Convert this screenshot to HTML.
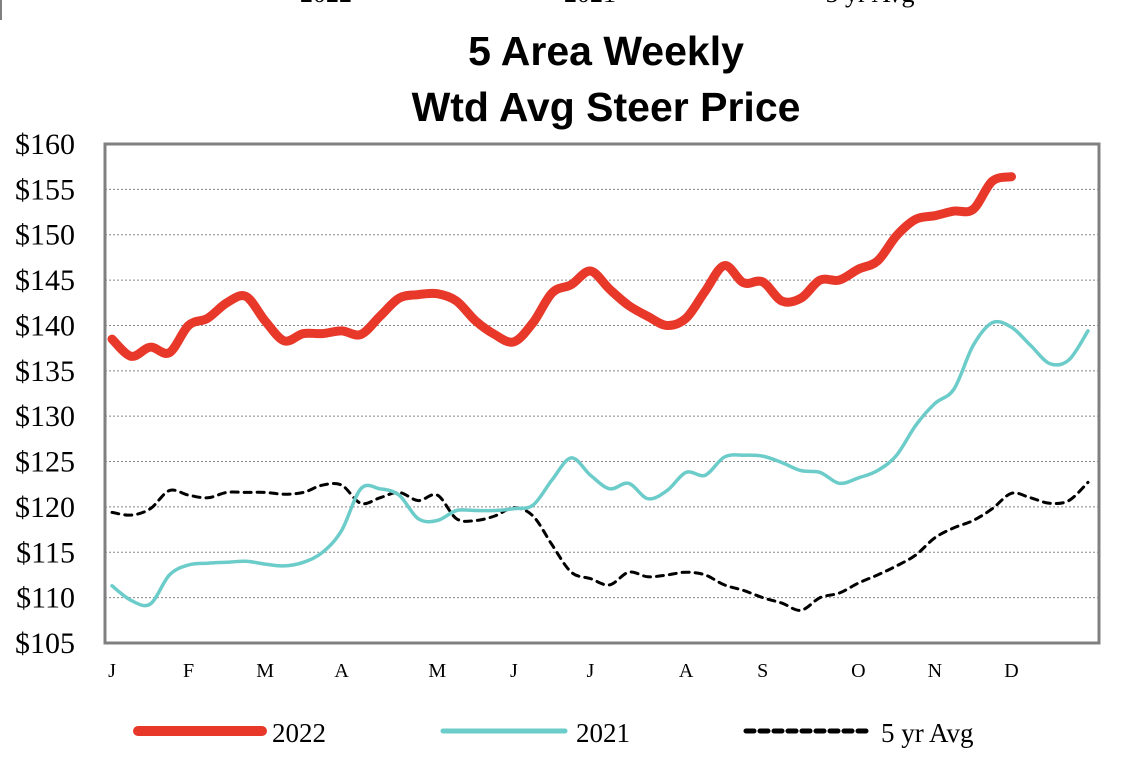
<!DOCTYPE html>
<html><head><meta charset="utf-8"><style>
html,body{margin:0;padding:0;background:#fff;}
svg{display:block;}
</style></head><body>
<svg id="chart" width="1132" height="758" viewBox="0 0 1132 758" xmlns="http://www.w3.org/2000/svg">
<line x1="1" y1="0" x2="1" y2="20" stroke="#000" stroke-width="1"/>
<text x="326" y="2" font-family="Liberation Serif, serif" font-size="26" text-anchor="middle">2022</text>
<text x="590" y="2" font-family="Liberation Serif, serif" font-size="26" text-anchor="middle">2021</text>
<text x="870" y="2" font-family="Liberation Serif, serif" font-size="26" text-anchor="middle">5 yr Avg</text>
<text x="606" y="65" font-family="Liberation Sans, sans-serif" font-weight="bold" font-size="41" text-anchor="middle">5 Area Weekly</text>
<text x="606" y="121" font-family="Liberation Sans, sans-serif" font-weight="bold" font-size="41" text-anchor="middle">Wtd Avg Steer Price</text>
<g id="grid"></g>
<g id="ylabels"></g>
<g id="xlabels"></g>
<g id="series"></g>
<rect x="105" y="144" width="994" height="499" fill="none" stroke="#808080" stroke-width="3"/>
<g>
<line x1="138" y1="731" x2="262" y2="731" stroke="#e8382a" stroke-width="10" stroke-linecap="round"/>
<text x="272" y="742" font-family="Liberation Serif, serif" font-size="27">2022</text>
<line x1="443" y1="731" x2="565" y2="731" stroke="#6cccc9" stroke-width="5" stroke-linecap="round"/>
<text x="576" y="742" font-family="Liberation Serif, serif" font-size="27">2021</text>
<line x1="746" y1="731" x2="866" y2="731" stroke="#000" stroke-width="5" stroke-dasharray="8,6" stroke-linecap="round"/>
<text x="881" y="742" font-family="Liberation Serif, serif" font-size="27">5 yr Avg</text>
</g>
</svg>
<script>
const yTicks = [105,110,115,120,125,130,135,140,145,150,155,160];
const yTickLabels = ["$105","$110","$115","$120","$125","$130","$135","$140","$145","$150","$155","$160"];
const monthLabels = ["J","F","M","A","M","J","J","A","S","O","N","D"];
const monthWeeks = [1,5,9,13,18,22,26,31,35,40,44,48];
const s2022 = [138.5,136.6,137.6,137,140,140.8,142.5,143.2,140.5,138.3,139.1,139.1,139.4,139,141,143,143.4,143.5,142.7,140.5,139,138.2,140.3,143.6,144.5,146,144,142.2,141,140,140.8,143.8,146.6,144.7,144.8,142.7,143,145,145,146.2,147.1,149.9,151.7,152.1,152.6,152.8,155.9,156.4];
const s2021 = [111.3,109.7,109.3,112.5,113.6,113.8,113.9,114,113.7,113.5,113.9,115,117.4,122,122,121.3,118.7,118.5,119.6,119.6,119.6,119.8,120.2,123,125.4,123.5,122,122.6,120.9,121.8,123.8,123.5,125.5,125.7,125.6,124.9,124,123.8,122.6,123.2,124,125.7,129,131.4,133,137.8,140.3,139.8,137.8,135.8,136.2,139.4];
const sAvg = [119.4,119.1,119.8,121.8,121.3,121,121.6,121.6,121.6,121.4,121.6,122.4,122.4,120.4,121,121.6,120.7,121.3,118.7,118.5,119,119.9,119,115.8,112.8,112.1,111.4,112.8,112.3,112.5,112.8,112.5,111.4,110.8,110,109.4,108.6,110,110.5,111.6,112.5,113.5,114.7,116.6,117.7,118.5,119.8,121.5,121,120.4,120.7,122.7];

const NS = "http://www.w3.org/2000/svg";
const yMin = 105, yMax = 160, plotTop = 144, plotBottom = 643;
function yScale(v){ return plotBottom - (v - yMin) / (yMax - yMin) * (plotBottom - plotTop); }
function xScale(w){ return 112 + (w - 1) * (1088 - 112) / 51; }

const grid = document.getElementById('grid');
const yl = document.getElementById('ylabels');
yTicks.forEach((t,i)=>{
  const y = yScale(t);
  if (t !== yMin && t !== yMax) {
    const ln = document.createElementNS(NS,'line');
    ln.setAttribute('x1',105); ln.setAttribute('x2',1099);
    ln.setAttribute('y1',y); ln.setAttribute('y2',y);
    ln.setAttribute('stroke','#888'); ln.setAttribute('stroke-width','1'); ln.setAttribute('stroke-dasharray','2,2');
    
    
    grid.appendChild(ln);
  }
  const tx = document.createElementNS(NS,'text');
  tx.setAttribute('x',75); tx.setAttribute('y',y+10);
  tx.setAttribute('text-anchor','end');
  tx.setAttribute('font-family','Liberation Serif, serif'); tx.setAttribute('font-size','30');
  tx.textContent = yTickLabels[i];
  
  
  yl.appendChild(tx);
});
const xl = document.getElementById('xlabels');
monthLabels.forEach((m,i)=>{
  const tx = document.createElementNS(NS,'text');
  tx.setAttribute('x', xScale(monthWeeks[i]) );
  tx.setAttribute('y', 677);
  tx.setAttribute('text-anchor','middle');
  tx.setAttribute('font-family','Liberation Serif, serif'); tx.setAttribute('font-size','20');
  tx.textContent = m;
  
  
  xl.appendChild(tx);
});

function smoothPath(vals){
  const pts = vals.map((v,i)=>[xScale(i+1), yScale(v)]);
  let d = 'M' + pts[0][0].toFixed(1) + ',' + pts[0][1].toFixed(1);
  for (let i=0;i<pts.length-1;i++){
    const p0 = pts[Math.max(0,i-1)], p1 = pts[i], p2 = pts[i+1], p3 = pts[Math.min(pts.length-1,i+2)];
    const c1x = p1[0] + (p2[0]-p0[0])/6, c1y = p1[1] + (p2[1]-p0[1])/6;
    const c2x = p2[0] - (p3[0]-p1[0])/6, c2y = p2[1] - (p3[1]-p1[1])/6;
    d += ' C' + c1x.toFixed(1)+','+c1y.toFixed(1)+' '+c2x.toFixed(1)+','+c2y.toFixed(1)+' '+p2[0].toFixed(1)+','+p2[1].toFixed(1);
  }
  return d;
}
const sg = document.getElementById('series');
function addLine(vals, color, width, dash, name){
  const p = document.createElementNS(NS,'path');
  p.setAttribute('d', smoothPath(vals));
  p.setAttribute('fill','none'); p.setAttribute('stroke',color); p.setAttribute('stroke-width',width);
  p.setAttribute('stroke-linejoin','round'); p.setAttribute('stroke-linecap','round');
  if (dash) p.setAttribute('stroke-dasharray', dash);
  
  
  sg.appendChild(p);
}
addLine(sAvg, '#000', 3, '7,6', 'line-5yr-avg');
addLine(s2021, '#6cccc9', 3.5, null, 'line-2021');
addLine(s2022, '#e8382a', 9, null, 'line-2022');
</script>
</body></html>
